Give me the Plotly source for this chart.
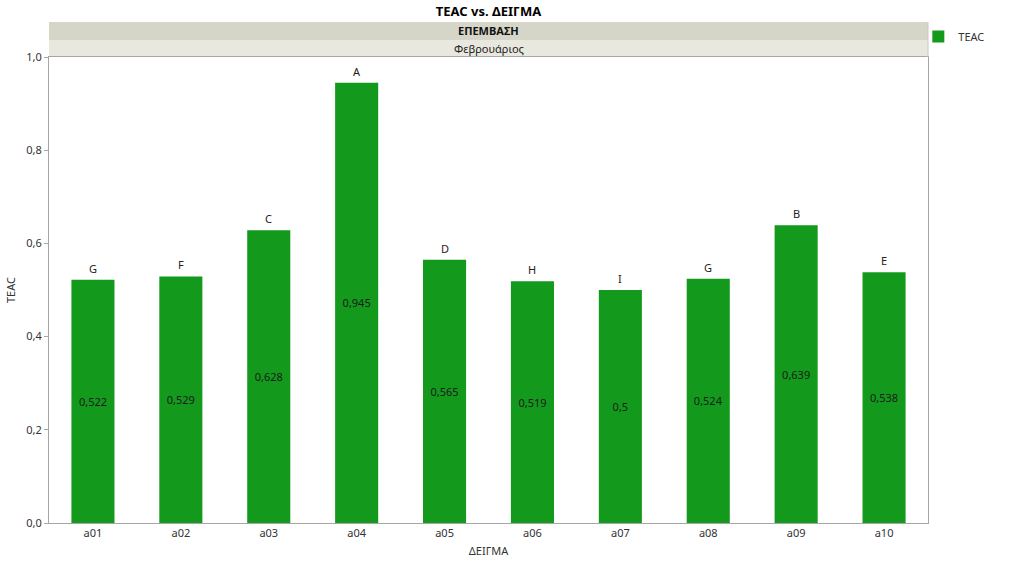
import plotly.graph_objects as go

samples = ["a01", "a02", "a03", "a04", "a05", "a06", "a07", "a08", "a09", "a10"]
teac = [0.522, 0.529, 0.628, 0.945, 0.565, 0.519, 0.5, 0.524, 0.639, 0.538]
groups = ["G", "F", "C", "A", "D", "H", "I", "G", "B", "E"]
y_ticks = [0.0, 0.2, 0.4, 0.6, 0.8, 1.0]

FONT = "Noto Sans"
GREEN = "#139a1d"
AXIS = "#a6a6a6"

fig = go.Figure()
fig.add_trace(go.Bar(
    x=samples, y=teac, name="TEAC",
    marker=dict(color=GREEN, line=dict(width=0)),
    text=[f"{v:g}".replace(".", ",") for v in teac],
    textposition="inside", insidetextanchor="middle", textangle=0,
    textfont=dict(family=FONT, size=11, color="#1a1a1a"),
    showlegend=True,
))

for s, v, g in zip(samples, teac, groups):
    fig.add_annotation(x=s, y=v, text=g, showarrow=False, yanchor="bottom",
                       yshift=2, font=dict(family=FONT, size=11, color="#222"))

plot_h = 562 - 57 - 39
s1 = 1 + 17 / plot_h
s2 = 1 + 35 / plot_h
fig.add_shape(type="rect", xref="paper", yref="paper", x0=0, x1=1, y0=s1, y1=s2,
              fillcolor="#d6d6c8", line=dict(width=0), layer="below")
fig.add_shape(type="rect", xref="paper", yref="paper", x0=0, x1=1, y0=1, y1=s1,
              fillcolor="#e8e8de", line=dict(width=0), layer="below")
fig.add_shape(type="line", xref="paper", yref="paper", x0=1, x1=1, y0=1, y1=s2,
              line=dict(color="#c8c8c0", width=1))
fig.add_annotation(xref="paper", yref="paper", x=0.5, y=(s1 + s2) / 2, text="<b>ΕΠΕΜΒΑΣΗ</b>",
                   showarrow=False, yanchor="middle", xanchor="center",
                   font=dict(family=FONT, size=11, color="#111"))
fig.add_annotation(xref="paper", yref="paper", x=0.5, y=(1 + s1) / 2, text="Φεβρουάριος",
                   showarrow=False, yanchor="middle", xanchor="center",
                   font=dict(family=FONT, size=11, color="#222"))

fig.update_layout(
    width=1024, height=562,
    margin=dict(l=49, r=96, t=57, b=39, autoexpand=False),
    paper_bgcolor="white", plot_bgcolor="white",
    separators=",.",
    bargap=0.51,
    title=dict(text="<b>TEAC vs. ΔΕΙΓΜΑ</b>", x=(49 + 439.5) / 1024, xanchor="center",
               y=1 - 11 / 562, yanchor="middle",
               font=dict(family=FONT, size=13, color="#000")),
    font=dict(family=FONT, size=11, color="#333"),
    legend=dict(x=0.989, xanchor="left", y=s2, yanchor="top",
                font=dict(family=FONT, size=11, color="#333"),
                itemwidth=30, bgcolor="rgba(0,0,0,0)"),
    xaxis=dict(showline=True, linecolor=AXIS, linewidth=1, mirror=True, automargin=False,
               showgrid=False, ticks="", tickfont=dict(size=11, color="#333"),
               title=dict(text="ΔΕΙΓΜΑ", font=dict(size=11, color="#333"), standoff=8)),
    yaxis=dict(range=[0, 1.0], tickvals=y_ticks, tickformat=".1f", automargin=False,
               showline=True, linecolor=AXIS, linewidth=1, mirror=True,
               showgrid=False, zeroline=False, ticks="outside", ticklen=4, tickcolor=AXIS,
               tickfont=dict(size=11, color="#333"),
               title=dict(text="TEAC", font=dict(size=11, color="#333"), standoff=8)),
)

fig.write_html("out.html")
